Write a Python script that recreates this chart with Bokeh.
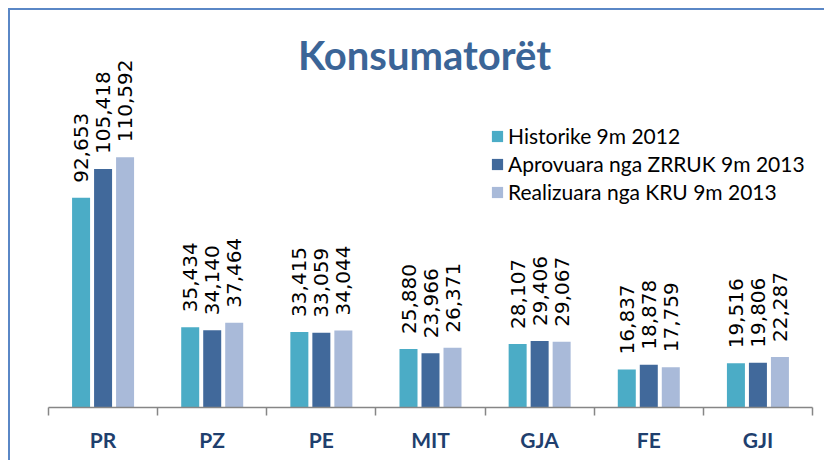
import math
from bokeh.plotting import figure
from bokeh.models import (Range1d, FixedTicker, Legend, LegendItem, Label,
                          ColumnDataSource)
from bokeh.core.properties import value
from bokeh.transform import dodge
from bokeh.embed import file_html
from bokeh.resources import INLINE

categories = ["PR", "PZ", "PE", "MIT", "GJA", "FE", "GJI"]
series_names = ["Historike 9m 2012", "Aprovuara nga ZRRUK 9m 2013", "Realizuara nga KRU 9m 2013"]
historike = [92653, 35434, 33415, 25880, 28107, 16837, 19516]
aprovuara = [105418, 34140, 33059, 23966, 29406, 18878, 19806]
realizuara = [110592, 37464, 34044, 26371, 29067, 17759, 22287]
title_text = "Konsumatorët"

colors = ["#4BACC6", "#41699B", "#A9BAD9"]

# canvas origin sits at page (10, 10): 8px margin + 2px border
W, H = 816, 452
frame_left, frame_right = 38, 802
frame_top, frame_bottom = 12, 397
px_per_unit = 0.002263
y_end = (frame_bottom - frame_top) / px_per_unit
cat_px = (frame_right - frame_left) / len(categories)

p = figure(width=W, height=H, output_backend="svg", toolbar_location=None,
           x_range=Range1d(0, len(categories)), y_range=Range1d(0, y_end),
           min_border_left=frame_left, min_border_right=W - frame_right,
           min_border_top=frame_top, min_border_bottom=H - frame_bottom,
           outline_line_color=None, background_fill_color="white",
           border_fill_color="white")
p.styles = {"margin-left": "8px", "margin-top": "8px",
            "border-top": "2px solid #5A87C6", "border-left": "2px solid #5A87C6"}
p.grid.visible = False
p.yaxis.visible = False

centers = [i + 0.5 for i in range(len(categories))]
src = ColumnDataSource(dict(x=centers, cat=categories, h=historike, a=aprovuara, r=realizuara,
                            hl=[f"{v:,}" for v in historike],
                            al=[f"{v:,}" for v in aprovuara],
                            rl=[f"{v:,}" for v in realizuara]))

bar_w = 18 / cat_px
off = 22 / cat_px
renderers = []
for col, lab, c, o in [("h", "hl", colors[0], -off), ("a", "al", colors[1], 0.0), ("r", "rl", colors[2], off)]:
    r = p.vbar(x=dodge("x", o, range=p.x_range), top=col, width=bar_w, bottom=0,
               source=src, fill_color=c, line_color=None)
    renderers.append(r)
    p.text(x=dodge("x", o, range=p.x_range), y=col, text=lab, source=src,
           angle=math.pi / 2, text_align="left", text_baseline="middle",
           y_offset=-15, text_font=value("DejaVu Sans"), text_font_size="20px",
           text_color="black")

ax = p.xaxis[0]
ax.ticker = FixedTicker(ticks=centers, minor_ticks=list(range(len(categories) + 1)))
ax.major_label_overrides = {c: n for c, n in zip(centers, categories)}
ax.major_tick_line_color = None
ax.major_tick_out = 0
ax.major_tick_in = 0
ax.minor_tick_line_color = "#868686"
ax.minor_tick_line_width = 1.5
ax.minor_tick_out = 8
ax.minor_tick_in = 0
ax.axis_line_color = "#868686"
ax.axis_line_width = 1.5
ax.major_label_standoff = 11
ax.major_label_text_font = "Lato"
ax.major_label_text_font_style = "bold"
ax.major_label_text_font_size = "21px"
ax.major_label_text_color = "#1F3F6E"

title = Label(x=(414 - frame_left) / cat_px, y=(frame_bottom - 44) / px_per_unit,
              text=title_text, text_align="center", text_baseline="alphabetic",
              text_font="Lato", text_font_style="bold", text_font_size="40px",
              text_color="#3B6597")
p.add_layout(title)

legend = Legend(items=[LegendItem(label=n, renderers=[r]) for n, r in zip(series_names, renderers)],
                location=(442, 203), orientation="vertical",
                glyph_width=14, glyph_height=14, label_height=25, spacing=3,
                label_standoff=4, padding=0, margin=0,
                border_line_color=None, background_fill_alpha=0,
                label_text_font="Lato", label_text_font_size="21px",
                label_text_color="black")
p.add_layout(legend, "center")

open("out.html", "w").write(file_html(p, INLINE))
